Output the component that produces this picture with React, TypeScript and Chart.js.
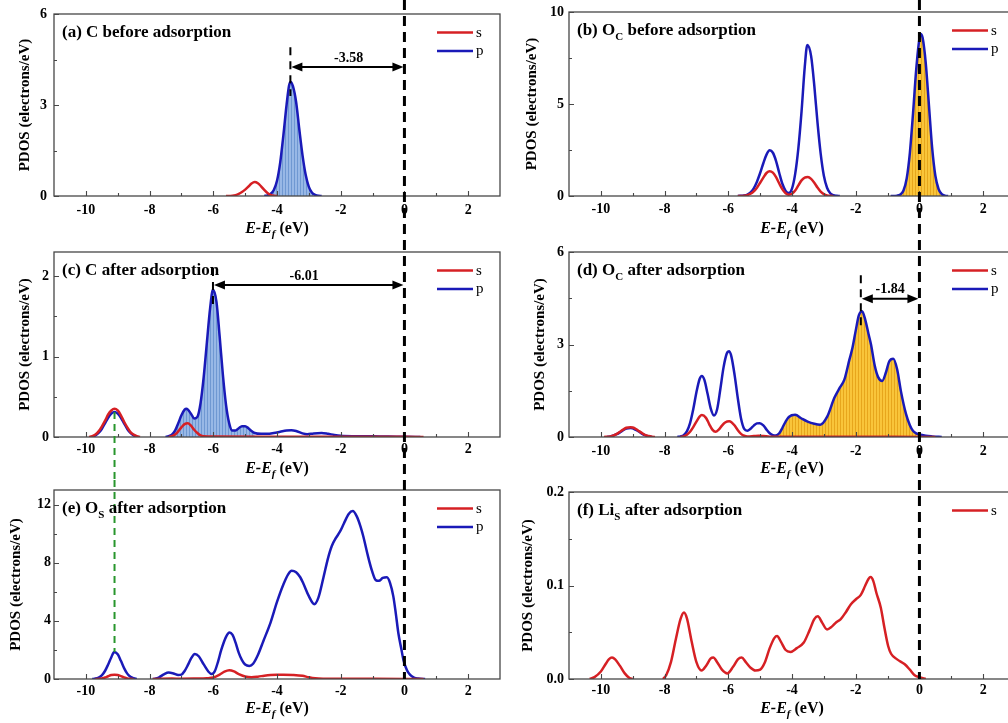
import React, { useEffect, useRef } from "react";
import { Chart, registerables } from "chart.js";
Chart.register(...registerables);

type Pt = [number, number | null];
type Run = { t: string; sub?: boolean; it?: boolean };

const SERIF = '"Liberation Serif", "Times New Roman", serif';
const RED = "rgb(214,32,36)";
const BLUE = "rgb(26,26,184)";
const GREEN = "rgb(40,150,45)";

// ---------- axis ticks ----------
const X_TICKS = [-10, -8, -6, -4, -2, 0, 2];
const X_MINOR = [-9, -7, -5, -3, -1, 1];
const A_YTICKS = [0, 3, 6];
const A_YMINOR = [1.5, 4.5];
const B_YTICKS = [0, 5, 10];
const B_YMINOR = [2.5, 7.5];
const C_YTICKS = [0, 1, 2];
const C_YMINOR = [0.5, 1.5];
const D_YTICKS = [0, 3, 6];
const D_YMINOR = [1.5, 4.5];
const E_YTICKS = [0, 4, 8, 12];
const E_YMINOR = [2, 6, 10];
const F_YTICKS = [0, 0.1, 0.2];
const F_YMINOR = [0.05, 0.15];

// ---------- series (E-Ef, PDOS) ----------
const A_S: Pt[] = [[-5.6,0],[-5.4,0.01],[-5.3,0.03],[-5.2,0.07],[-5.1,0.13],[-5.0,0.21],[-4.9,0.31],[-4.8,0.41],[-4.7,0.46],[-4.6,0.42],[-4.5,0.32],[-4.4,0.2],[-4.3,0.1],[-4.2,0.04],[-4.1,0.01],[-4.0,0]];
const A_P: Pt[] = [[-4.4,0],[-4.3,0.02],[-4.2,0.07],[-4.1,0.2],[-4.0,0.5],[-3.9,1.1],[-3.8,2.0],[-3.7,3.0],[-3.62,3.65],[-3.57,3.76],[-3.5,3.62],[-3.4,3.1],[-3.3,2.2],[-3.2,1.35],[-3.1,0.7],[-3.0,0.3],[-2.9,0.11],[-2.8,0.04],[-2.7,0.01],[-2.6,0]];

const B_S: Pt[] = [[-5.7,0],[-5.5,0.02],[-5.4,0.05],[-5.3,0.12],[-5.2,0.25],[-5.1,0.45],[-5.0,0.72],[-4.9,1.0],[-4.8,1.25],[-4.7,1.35],[-4.6,1.27],[-4.5,1.02],[-4.4,0.68],[-4.3,0.36],[-4.2,0.15],[-4.1,0.07],[-4.0,0.12],[-3.9,0.3],[-3.8,0.58],[-3.7,0.85],[-3.6,1.0],[-3.5,1.03],[-3.4,0.93],[-3.3,0.72],[-3.2,0.46],[-3.1,0.24],[-3.0,0.1],[-2.9,0.03],[-2.8,0.01],[-2.7,0]];
const B_P: Pt[] = [[-5.7,0],[-5.5,0.03],[-5.4,0.08],[-5.3,0.2],[-5.2,0.42],[-5.1,0.78],[-5.0,1.25],[-4.9,1.78],[-4.8,2.25],[-4.7,2.48],[-4.6,2.35],[-4.5,1.9],[-4.4,1.25],[-4.3,0.65],[-4.2,0.28],[-4.1,0.16],[-4.0,0.4],[-3.9,1.2],[-3.8,2.6],[-3.7,4.6],[-3.6,7.0],[-3.52,8.2],[-3.4,7.6],[-3.3,6.0],[-3.2,4.0],[-3.1,2.3],[-3.0,1.1],[-2.9,0.45],[-2.8,0.15],[-2.7,0.04],[-2.6,0.01],[-2.5,0],[-1.5,null],[-0.9,0],[-0.7,0.02],[-0.6,0.08],[-0.5,0.3],[-0.4,0.95],[-0.3,2.35],[-0.2,4.5],[-0.1,6.9],[0,8.55],[0.04,8.8],[0.1,8.6],[0.2,7.2],[0.3,4.9],[0.4,2.6],[0.5,1.1],[0.6,0.38],[0.7,0.1],[0.8,0.02],[0.9,0]];

const C_S: Pt[] = [[-9.9,0],[-9.8,0.01],[-9.7,0.03],[-9.6,0.07],[-9.5,0.13],[-9.4,0.2],[-9.3,0.28],[-9.2,0.33],[-9.1,0.35],[-9.0,0.33],[-8.9,0.27],[-8.8,0.19],[-8.7,0.12],[-8.6,0.06],[-8.5,0.03],[-8.4,0.01],[-8.3,0],[-8.0,null],[-7.4,0],[-7.3,0.01],[-7.2,0.03],[-7.1,0.07],[-7.0,0.12],[-6.9,0.16],[-6.8,0.17],[-6.7,0.14],[-6.6,0.09],[-6.5,0.05],[-6.4,0.02],[-6.3,0.01],[-6.0,0.005],[-4.0,0.004],[-2.0,0.004],[0,0.003],[0.6,0]];
const C_P: Pt[] = [[-9.8,0],[-9.7,0.02],[-9.6,0.05],[-9.5,0.1],[-9.4,0.17],[-9.3,0.24],[-9.2,0.29],[-9.1,0.31],[-9.0,0.29],[-8.9,0.24],[-8.8,0.17],[-8.7,0.1],[-8.6,0.05],[-8.5,0.02],[-8.4,0],[-8.0,null],[-7.5,0],[-7.4,0.01],[-7.3,0.03],[-7.2,0.08],[-7.1,0.17],[-7.0,0.27],[-6.9,0.34],[-6.84,0.35],[-6.7,0.29],[-6.6,0.23],[-6.5,0.25],[-6.4,0.42],[-6.3,0.75],[-6.2,1.18],[-6.1,1.6],[-6.01,1.83],[-5.9,1.68],[-5.8,1.25],[-5.7,0.78],[-5.6,0.4],[-5.5,0.17],[-5.4,0.08],[-5.3,0.08],[-5.2,0.11],[-5.1,0.135],[-5.0,0.135],[-4.9,0.11],[-4.8,0.075],[-4.7,0.05],[-4.5,0.04],[-4.3,0.04],[-4.1,0.05],[-3.9,0.065],[-3.7,0.08],[-3.55,0.085],[-3.4,0.075],[-3.2,0.045],[-3.05,0.035],[-2.85,0.045],[-2.6,0.05],[-2.4,0.04],[-2.2,0.025],[-2.0,0.015],[-1.5,0.01],[-1.0,0.008],[-0.5,0.005],[0,0.003],[0.5,0]];

const D_S: Pt[] = [[-9.9,0],[-9.7,0.02],[-9.6,0.05],[-9.5,0.1],[-9.4,0.17],[-9.3,0.24],[-9.2,0.3],[-9.07,0.32],[-9.0,0.31],[-8.9,0.26],[-8.8,0.19],[-8.7,0.12],[-8.6,0.06],[-8.5,0.03],[-8.4,0.01],[-8.3,0],[-8.0,null],[-7.5,0],[-7.4,0.02],[-7.3,0.07],[-7.2,0.17],[-7.1,0.32],[-7.0,0.5],[-6.9,0.66],[-6.83,0.71],[-6.7,0.62],[-6.6,0.42],[-6.5,0.24],[-6.4,0.17],[-6.3,0.24],[-6.2,0.37],[-6.1,0.47],[-5.97,0.51],[-5.9,0.48],[-5.8,0.37],[-5.7,0.22],[-5.6,0.1],[-5.5,0.04],[-5.4,0.02],[-5.2,0.03],[-5.05,0.04],[-4.9,0.03],[-4.7,0.01],[-4.5,0.005],[-3,0.005],[-1,0.005],[0,0.003],[0.5,0]];
const D_P: Pt[] = [[-9.8,0],[-9.7,0.02],[-9.6,0.05],[-9.5,0.09],[-9.4,0.15],[-9.3,0.22],[-9.2,0.27],[-9.07,0.29],[-9.0,0.28],[-8.9,0.23],[-8.8,0.17],[-8.7,0.1],[-8.6,0.05],[-8.5,0.02],[-8.4,0],[-8.0,null],[-7.6,0],[-7.5,0.02],[-7.4,0.06],[-7.3,0.18],[-7.2,0.45],[-7.1,0.9],[-7.0,1.45],[-6.9,1.88],[-6.83,1.98],[-6.75,1.85],[-6.65,1.4],[-6.55,0.92],[-6.45,0.7],[-6.35,0.9],[-6.25,1.55],[-6.15,2.25],[-6.05,2.7],[-5.97,2.78],[-5.9,2.6],[-5.8,2.0],[-5.7,1.25],[-5.6,0.6],[-5.5,0.26],[-5.4,0.2],[-5.3,0.27],[-5.2,0.37],[-5.1,0.44],[-5.01,0.45],[-4.9,0.38],[-4.8,0.24],[-4.7,0.12],[-4.6,0.06],[-4.51,0.05],[-4.4,0.12],[-4.3,0.3],[-4.2,0.5],[-4.1,0.65],[-3.9,0.72],[-3.7,0.6],[-3.51,0.5],[-3.3,0.43],[-3.11,0.4],[-2.9,0.65],[-2.67,1.27],[-2.5,1.6],[-2.36,1.85],[-2.2,2.5],[-2.1,2.9],[-2.0,3.45],[-1.9,3.95],[-1.8,4.08],[-1.7,3.8],[-1.6,3.35],[-1.52,3.0],[-1.4,2.3],[-1.3,1.95],[-1.17,1.82],[-1.05,2.1],[-0.95,2.45],[-0.82,2.54],[-0.7,2.2],[-0.58,1.48],[-0.42,0.74],[-0.3,0.38],[-0.21,0.21],[-0.1,0.12],[0,0.08],[0.2,0.04],[0.4,0.02],[0.7,0]];

const E_S: Pt[] = [[-9.7,0],[-9.5,0.03],[-9.4,0.1],[-9.3,0.19],[-9.2,0.27],[-9.1,0.3],[-9.0,0.27],[-8.9,0.2],[-8.8,0.11],[-8.7,0.04],[-8.6,0.01],[-8.5,0],[-8.2,null],[-7.9,0],[-7.6,0.02],[-7.3,0.03],[-7.0,0.02],[-6.6,0.03],[-6.2,0.05],[-6.0,0.1],[-5.8,0.3],[-5.65,0.5],[-5.5,0.6],[-5.35,0.52],[-5.2,0.33],[-5.0,0.17],[-4.8,0.12],[-4.6,0.16],[-4.4,0.23],[-4.2,0.28],[-4.0,0.3],[-3.8,0.3],[-3.5,0.28],[-3.2,0.22],[-3.0,0.12],[-2.8,0.05],[-2.5,0.02],[-2.0,0.01],[-1.0,0.01],[0,0.005],[0.6,0]];
const E_P: Pt[] = [[-9.8,0],[-9.7,0.03],[-9.6,0.1],[-9.5,0.25],[-9.4,0.55],[-9.3,1.0],[-9.2,1.5],[-9.11,1.85],[-9.0,1.7],[-8.9,1.25],[-8.8,0.75],[-8.7,0.37],[-8.6,0.15],[-8.5,0.05],[-8.4,0],[-8.2,null],[-7.9,0],[-7.8,0.03],[-7.7,0.12],[-7.55,0.32],[-7.4,0.44],[-7.25,0.38],[-7.1,0.28],[-7.0,0.3],[-6.9,0.55],[-6.8,0.95],[-6.7,1.4],[-6.58,1.72],[-6.45,1.55],[-6.3,1.0],[-6.15,0.5],[-6.05,0.34],[-5.95,0.55],[-5.85,1.2],[-5.75,2.0],[-5.6,2.9],[-5.49,3.2],[-5.4,3.05],[-5.3,2.5],[-5.2,1.8],[-5.1,1.3],[-5.0,1.0],[-4.87,0.9],[-4.75,1.05],[-4.6,1.65],[-4.43,2.6],[-4.2,3.9],[-4.0,5.3],[-3.8,6.5],[-3.65,7.2],[-3.54,7.45],[-3.4,7.35],[-3.27,7.0],[-3.17,6.55],[-3.0,5.7],[-2.83,5.15],[-2.7,5.6],[-2.54,7.0],[-2.4,8.3],[-2.28,9.15],[-2.15,9.7],[-2.02,10.15],[-1.9,10.7],[-1.75,11.35],[-1.62,11.55],[-1.5,11.2],[-1.38,10.5],[-1.29,9.8],[-1.15,8.5],[-1.02,7.45],[-0.9,6.8],[-0.8,6.75],[-0.68,6.95],[-0.55,7.0],[-0.45,6.6],[-0.35,5.7],[-0.27,4.5],[-0.19,3.15],[-0.1,2.1],[-0.03,1.3],[0.08,0.6],[0.18,0.28],[0.3,0.1],[0.44,0.03],[0.65,0]];

const F_S: Pt[] = [[-10.35,0],[-10.2,0.002],[-10.0,0.008],[-9.85,0.016],[-9.75,0.021],[-9.65,0.023],[-9.55,0.021],[-9.4,0.014],[-9.25,0.006],[-9.1,0.001],[-9.0,0],[-8.5,null],[-8.05,0],[-7.95,0.004],[-7.8,0.018],[-7.65,0.042],[-7.5,0.064],[-7.39,0.071],[-7.3,0.065],[-7.15,0.04],[-7.0,0.018],[-6.84,0.009],[-6.7,0.014],[-6.55,0.022],[-6.47,0.023],[-6.35,0.018],[-6.2,0.01],[-6.03,0.006],[-5.85,0.013],[-5.7,0.021],[-5.58,0.023],[-5.45,0.018],[-5.3,0.012],[-5.15,0.009],[-5.0,0.01],[-4.85,0.018],[-4.7,0.033],[-4.55,0.044],[-4.47,0.046],[-4.35,0.04],[-4.2,0.031],[-4.05,0.029],[-3.85,0.033],[-3.63,0.039],[-3.45,0.052],[-3.3,0.064],[-3.19,0.067],[-3.05,0.06],[-2.9,0.053],[-2.75,0.056],[-2.6,0.061],[-2.47,0.064],[-2.3,0.072],[-2.15,0.08],[-2.0,0.085],[-1.84,0.09],[-1.7,0.1],[-1.6,0.107],[-1.53,0.109],[-1.45,0.105],[-1.35,0.092],[-1.21,0.076],[-1.1,0.055],[-0.98,0.035],[-0.89,0.027],[-0.7,0.021],[-0.47,0.016],[-0.3,0.01],[-0.15,0.004],[0,0.002],[0.2,0]];

// ---------- panel setup ----------
interface Ann { x0: number; dashTop: number; dashBottom: number; arrowY: number; text: string; textX: number; textY: number }
interface PanelCfg {
  key: string; left: number; top: number; w: number; h: number;
  padTop: number; padRight: number; yW: number; xH: number;
  yMax: number; yTicks: number[]; yMinor: number[]; yDigits: number;
  yTitlePad: number; yTickPad: number; xTickPad: number; xTitleOff: number;
  label: Run[];
  s: Pt[]; p?: Pt[];
  fill?: { from: number; to: number; kind: "blue" | "orange" };
  ann?: Ann;
  zeroToPlot: boolean;
  green?: { from: number | null; to: number | null };
}

const PANELS: PanelCfg[] = [
  { key: "a", left: 0, top: 0, w: 504, h: 240, padTop: 8, padRight: 4, yW: 54, xH: 44,
    yMax: 6, yTicks: A_YTICKS, yMinor: A_YMINOR, yDigits: 0, yTitlePad: 18, yTickPad: 7, xTickPad: 7, xTitleOff: 36.5,
    label: [{ t: "(a) C before adsorption" }], s: A_S, p: A_P,
    fill: { from: -5, to: -2, kind: "blue" },
    ann: { x0: -3.58, dashTop: 4.9, dashBottom: 3.3, arrowY: 4.25, text: "-3.58", textX: -1.75, textY: 4.55 },
    zeroToPlot: false },
  { key: "b", left: 504, top: 0, w: 520, h: 240, padTop: 8, padRight: 9, yW: 65, xH: 44,
    yMax: 10, yTicks: B_YTICKS, yMinor: B_YMINOR, yDigits: 0, yTitlePad: 20.5, yTickPad: 5, xTickPad: 6, xTitleOff: 36.5,
    label: [{ t: "(b) O" }, { t: "C", sub: true }, { t: " before adsorption" }], s: B_S, p: B_P,
    fill: { from: -1, to: 1, kind: "orange" },
    zeroToPlot: false },
  { key: "c", left: 0, top: 240, w: 504, h: 240, padTop: 8, padRight: 4, yW: 54, xH: 43,
    yMax: 2.3, yTicks: C_YTICKS, yMinor: C_YMINOR, yDigits: 0, yTitlePad: 18, yTickPad: 5, xTickPad: 5, xTitleOff: 36,
    label: [{ t: "(c) C after adsorption" }], s: C_S, p: C_P,
    fill: { from: -7.5, to: -4.6, kind: "blue" },
    ann: { x0: -6.01, dashTop: 2.1, dashBottom: 1.6, arrowY: 1.89, text: "-6.01", textX: -3.15, textY: 2.0 },
    zeroToPlot: false, green: { from: 0.31, to: null } },
  { key: "d", left: 504, top: 240, w: 520, h: 240, padTop: 8, padRight: 9, yW: 65, xH: 43,
    yMax: 6, yTicks: D_YTICKS, yMinor: D_YMINOR, yDigits: 0, yTitlePad: 29, yTickPad: 5, xTickPad: 7, xTitleOff: 36,
    label: [{ t: "(d) O" }, { t: "C", sub: true }, { t: " after adsorption" }], s: D_S, p: D_P,
    fill: { from: -4.51, to: 0, kind: "orange" },
    ann: { x0: -1.84, dashTop: 5.25, dashBottom: 3.6, arrowY: 4.48, text: "-1.84", textX: -0.92, textY: 4.78 },
    zeroToPlot: false },
  { key: "e", left: 0, top: 480, w: 504, h: 243, padTop: 10, padRight: 4, yW: 54, xH: 44,
    yMax: 13, yTicks: E_YTICKS, yMinor: E_YMINOR, yDigits: 0, yTitlePad: 9, yTickPad: 3, xTickPad: 5, xTitleOff: 34.3,
    label: [{ t: "(e) O" }, { t: "S", sub: true }, { t: " after adsorption" }], s: E_S, p: E_P,
    zeroToPlot: true, green: { from: null, to: 1.85 } },
  { key: "f", left: 504, top: 480, w: 520, h: 243, padTop: 10, padRight: 9, yW: 65, xH: 44,
    yMax: 0.2, yTicks: F_YTICKS, yMinor: F_YMINOR, yDigits: 1, yTitlePad: 16.5, yTickPad: 5, xTickPad: 4, xTitleOff: 34.3,
    label: [{ t: "(f) Li" }, { t: "S", sub: true }, { t: " after adsorption" }], s: F_S,
    zeroToPlot: true },
];

function drawRuns(ctx: CanvasRenderingContext2D, runs: Run[], x: number, y: number, size: number, subSize: number, subDrop: number, center: boolean) {
  const font = (r: Run) => `${r.it ? "italic " : ""}bold ${r.sub ? subSize : size}px ${SERIF}`;
  let total = 0;
  for (const r of runs) { ctx.font = font(r); total += ctx.measureText(r.t).width; }
  let cx = center ? x - total / 2 : x;
  ctx.textAlign = "left";
  ctx.textBaseline = "alphabetic";
  ctx.fillStyle = "#000";
  for (const r of runs) {
    ctx.font = font(r);
    ctx.fillText(r.t, cx, r.sub ? y + subDrop : y);
    cx += ctx.measureText(r.t).width;
  }
}

function arrowHead(ctx: CanvasRenderingContext2D, tipX: number, y: number, dir: number) {
  ctx.beginPath();
  ctx.moveTo(tipX, y);
  ctx.lineTo(tipX + dir * 11, y - 4.5);
  ctx.lineTo(tipX + dir * 11, y + 4.5);
  ctx.closePath();
  ctx.fill();
}

const LEGEND_ORDER = ["s", "p"];

function makeDecor(cfg: PanelCfg) {
  return {
    id: "decor_" + cfg.key,
    afterDatasetsDraw(chart: any) {
      const { ctx, chartArea: ca, scales } = chart;
      const xs = scales.x, ys = scales.y;
      ctx.save();
      // frame
      ctx.strokeStyle = "#474747";
      ctx.lineWidth = 1.3;
      ctx.setLineDash([]);
      ctx.strokeRect(ca.left, ca.top, ca.right - ca.left, ca.bottom - ca.top);
      // inner ticks
      ctx.lineWidth = 1.1;
      ctx.beginPath();
      for (const v of X_TICKS) { const px = Math.round(xs.getPixelForValue(v)) + 0.5; ctx.moveTo(px, ca.bottom); ctx.lineTo(px, ca.bottom - 5); }
      for (const v of X_MINOR) { const px = Math.round(xs.getPixelForValue(v)) + 0.5; ctx.moveTo(px, ca.bottom); ctx.lineTo(px, ca.bottom - 3); }
      for (const v of cfg.yTicks) { const py = Math.round(ys.getPixelForValue(v)) + 0.5; ctx.moveTo(ca.left, py); ctx.lineTo(ca.left + 5, py); }
      for (const v of cfg.yMinor) { const py = Math.round(ys.getPixelForValue(v)) + 0.5; ctx.moveTo(ca.left, py); ctx.lineTo(ca.left + 3, py); }
      ctx.stroke();

      // annotation
      if (cfg.ann) {
        const a = cfg.ann;
        const x0 = xs.getPixelForValue(a.x0);
        const x1 = xs.getPixelForValue(0);
        ctx.strokeStyle = "#000";
        ctx.fillStyle = "#000";
        ctx.lineWidth = 2;
        ctx.setLineDash([8, 6]);
        ctx.beginPath();
        ctx.moveTo(x0, ys.getPixelForValue(a.dashTop));
        ctx.lineTo(x0, ys.getPixelForValue(a.dashBottom));
        ctx.stroke();
        ctx.setLineDash([]);
        const ay = ys.getPixelForValue(a.arrowY);
        ctx.beginPath();
        ctx.moveTo(x0 + 8, ay);
        ctx.lineTo(x1 - 8, ay);
        ctx.stroke();
        arrowHead(ctx, x0 + 1, ay, 1);
        arrowHead(ctx, x1 - 1, ay, -1);
        ctx.font = `bold 14px ${SERIF}`;
        ctx.textAlign = "center";
        ctx.textBaseline = "middle";
        ctx.fillText(a.text, xs.getPixelForValue(a.textX), ys.getPixelForValue(a.textY));
      }

      // green dashed guide
      if (cfg.green) {
        const gx = xs.getPixelForValue(-9.1);
        const y0 = cfg.green.from === null ? 0 : ys.getPixelForValue(cfg.green.from);
        const y1 = cfg.green.to === null ? chart.height : ys.getPixelForValue(cfg.green.to);
        ctx.strokeStyle = GREEN;
        ctx.lineWidth = 2;
        ctx.setLineDash([7, 5]);
        ctx.beginPath();
        ctx.moveTo(gx, y0);
        ctx.lineTo(gx, y1);
        ctx.stroke();
      }

      // Fermi level dashed line
      const zx = xs.getPixelForValue(0);
      ctx.strokeStyle = "#000";
      ctx.lineWidth = 3;
      ctx.setLineDash([10, 6]);
      ctx.beginPath();
      ctx.moveTo(zx, 0);
      ctx.lineTo(zx, cfg.zeroToPlot ? ca.bottom : chart.height);
      ctx.stroke();
      ctx.setLineDash([]);

      // legend
      const entries = chart.data.datasets.filter((d: any) => LEGEND_ORDER.includes(d.label));
      entries.sort((u: any, v: any) => LEGEND_ORDER.indexOf(u.label) - LEGEND_ORDER.indexOf(v.label));
      entries.forEach((d: any, i: number) => {
        const ly = ca.top + 18.5 + i * 18.5;
        ctx.strokeStyle = d.borderColor;
        ctx.lineWidth = 2.5;
        ctx.beginPath();
        ctx.moveTo(ca.right - 63, ly);
        ctx.lineTo(ca.right - 27, ly);
        ctx.stroke();
        ctx.fillStyle = "#000";
        ctx.font = `15px ${SERIF}`;
        ctx.textAlign = "left";
        ctx.textBaseline = "alphabetic";
        ctx.fillText(d.label, ca.right - 24, ly + 4);
      });

      // panel label
      drawRuns(ctx, cfg.label, ca.left + 8, ca.top + 22.5, 17, 11, 5, false);

      // x axis title
      drawRuns(ctx, [{ t: "E-E", it: true }, { t: "f", it: true, sub: true }, { t: " (eV)" }],
        (ca.left + ca.right) / 2, ca.bottom + cfg.xTitleOff, 16, 11, 4, true);
      ctx.restore();
    },
  };
}

function makePattern(base: string, line: string): CanvasPattern | string {
  const c = document.createElement("canvas");
  c.width = 3; c.height = 4;
  const g = c.getContext("2d");
  if (!g) return base;
  g.fillStyle = base; g.fillRect(0, 0, 3, 4);
  g.fillStyle = line; g.fillRect(0, 0, 1, 4);
  return g.createPattern(c, "repeat") || base;
}

function toXY(pts: Pt[]) {
  return pts.map(([x, y]) => ({ x, y }));
}

function buildConfig(cfg: PanelCfg): any {
  const datasets: any[] = [];
  const line = (label: string, pts: Pt[], color: string, order: number) => ({
    label, data: toXY(pts), borderColor: color, backgroundColor: color, borderWidth: 2.5,
    pointRadius: 0, fill: false, cubicInterpolationMode: "monotone", spanGaps: false, order,
  });
  datasets.push(line("s", cfg.s, RED, 0));
  if (cfg.p) datasets.push(line("p", cfg.p, BLUE, 1));
  if (cfg.fill && cfg.p) {
    const f = cfg.fill;
    const pts = cfg.p.filter(([x, y]) => y !== null && x >= f.from && x <= f.to);
    const bg = f.kind === "blue" ? makePattern("#98b8e6", "#6f98d2") : makePattern("#f9c53a", "#e7a61c");
    datasets.push({
      label: "fill", data: toXY(pts), borderWidth: 0, borderColor: "rgba(0,0,0,0)", backgroundColor: bg,
      pointRadius: 0, fill: "origin", cubicInterpolationMode: "monotone", order: 2,
    });
  }
  const tickFont = { family: SERIF, size: 14, weight: "bold", lineHeight: 1 };
  return {
    type: "line",
    data: { datasets },
    options: {
      responsive: false,
      maintainAspectRatio: false,
      devicePixelRatio: 1,
      animation: false,
      events: [],
      layout: { padding: { top: cfg.padTop, right: cfg.padRight, left: 0, bottom: 0 } },
      plugins: { legend: { display: false }, tooltip: { enabled: false } },
      scales: {
        x: {
          type: "linear", min: -11, max: 3,
          grid: { display: false, drawTicks: false }, border: { display: false },
          afterBuildTicks: (s: any) => { s.ticks = X_TICKS.map((v) => ({ value: v })); },
          afterFit: (s: any) => { s.height = cfg.xH; },
          ticks: { autoSkip: false, maxRotation: 0, padding: cfg.xTickPad, color: "#000", font: tickFont, callback: (v: any) => String(v) },
        },
        y: {
          type: "linear", min: 0, max: cfg.yMax,
          grid: { display: false, drawTicks: false }, border: { display: false },
          afterBuildTicks: (s: any) => { s.ticks = cfg.yTicks.map((v) => ({ value: v })); },
          afterFit: (s: any) => { s.width = cfg.yW; },
          ticks: { autoSkip: false, padding: cfg.yTickPad, color: "#000", font: tickFont, callback: (v: any) => Number(v).toFixed(cfg.yDigits) },
          title: { display: true, text: "PDOS (electrons/eV)", color: "#000", padding: { top: cfg.yTitlePad, bottom: 0 }, font: { family: SERIF, size: 15, weight: "bold", lineHeight: 1 } },
        },
      },
    },
    plugins: [makeDecor(cfg)],
  };
}

function Panel({ cfg }: { cfg: PanelCfg }) {
  const ref = useRef<HTMLCanvasElement>(null);
  useEffect(() => {
    if (!ref.current) return;
    const chart = new Chart(ref.current, buildConfig(cfg));
    return () => chart.destroy();
  }, [cfg]);
  return (
    <canvas ref={ref} width={cfg.w} height={cfg.h}
      style={{ position: "absolute", left: cfg.left, top: cfg.top, width: cfg.w, height: cfg.h }} />
  );
}

export default function App() {
  return (
    <div style={{ position: "fixed", left: 0, top: 0, width: 1008, height: 723, overflow: "hidden", background: "#fff" }}>
      {PANELS.map((p) => <Panel key={p.key} cfg={p} />)}
    </div>
  );
}
